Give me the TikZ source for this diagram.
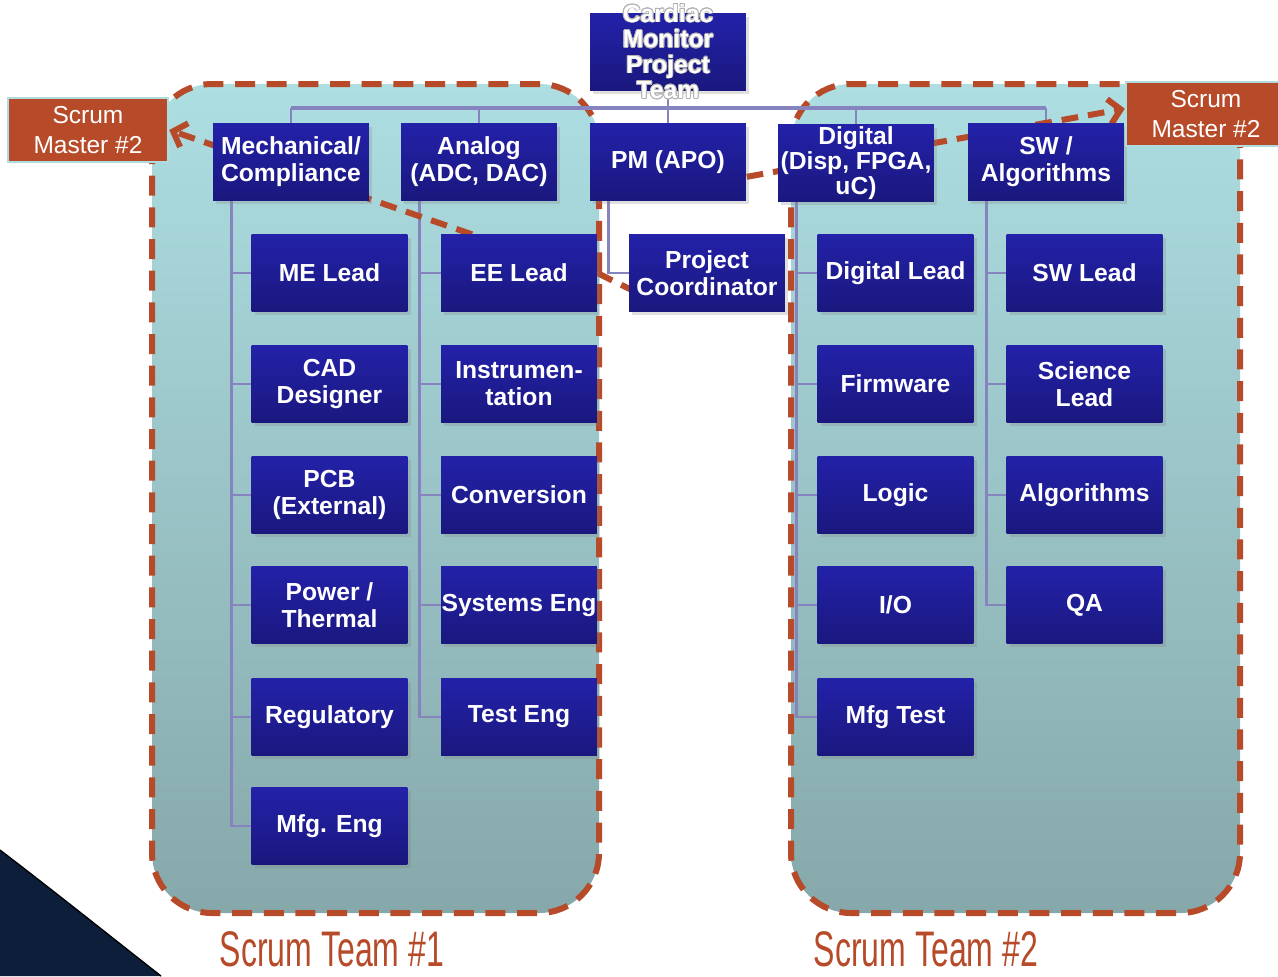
\documentclass[tikz,border=0pt]{standalone}
\usepackage{fontspec}
\setmainfont{Liberation Sans}
\usepackage[copies]{contour}
\contourlength{0.5pt}
\newcommand{\boxglow}[1]{\contour{black!30}{#1}}
\usetikzlibrary{positioning,calc,shadows,arrows.meta,backgrounds}
\definecolor{roletop}{RGB}{35,33,168}
\definecolor{rolebot}{RGB}{26,24,126}
\definecolor{rust}{RGB}{183,74,40}
\definecolor{teamtop}{RGB}{173,222,226}
\definecolor{teambot}{RGB}{134,168,170}
\definecolor{orgblue}{RGB}{134,132,190}
\definecolor{slidenavy}{RGB}{12,30,58}
\definecolor{rimcyan}{RGB}{176,220,224}
\tikzset{role/.style={top color=roletop,bottom color=rolebot,text=white,align=center,
            font=\bfseries\fontsize{14.8}{16.2}\selectfont,minimum width=93.5pt,minimum height=46pt,
            inner xsep=0pt,inner ysep=1pt,drop shadow={shadow xshift=2pt,shadow yshift=-2pt,opacity=0.25}},
         scrum/.style={draw=rimcyan,line width=1.5pt,fill=rust,text=white,align=center,
            font=\fontsize{14.7}{18}\selectfont,minimum width=96pt,minimum height=38.5pt,inner sep=0pt},
         team/.style={draw=rust,line width=3.6pt,dash pattern=on 12pt off 7pt,rounded corners=36pt,
            top color=teamtop,bottom color=teambot},
         orgline/.style={draw=orgblue,line width=1.6pt},
         scrumlink/.style={draw=rust,line width=3.6pt,dash pattern=on 10pt off 6pt},
         teamname/.style={text=rust,font=\fontsize{30}{30}\selectfont,xscale=0.64}
}

\begin{document}
\begin{tikzpicture}[x=0.6pt,y=0.6pt,yscale=-1]
\useasboundingbox (0,0) rectangle (1278,976);

% slide corner
\fill[slidenavy] (0,850) .. controls (55,892) and (110,936) .. (161,976) -- (0,976) -- cycle;
\draw[black,line width=0.8pt] (0,850) .. controls (55,892) and (110,936) .. (161,976);

% top of the tree
\node[role,label={[text=white,align=center,font=\bfseries\fontsize{14.8}{15.3}\selectfont]center:{\boxglow{Cardiac}\\\boxglow{Monitor}\\\boxglow{Project}\\\boxglow{Team}}}] (top) at (668,52) {};
\node[role] (mech) at (291,162) {Mechanical/\\Compliance};
\node[role] (analog) at (479,162) {Analog\\(ADC, DAC)};
\node[role] (pm) at (668,162) {PM (APO)};
\node[role,font=\bfseries\fontsize{14.8}{14.8}\selectfont] (digital) at (856,163) {Digital\\(Disp, FPGA,\\uC)};
\node[role] (sw) at (1046,162) {SW /\\Algorithms};

% mechanical
\node[role] (melead) at (329.5,273) {ME Lead};
\node[role] (cad) at (329.5,384) {CAD\\Designer};
\node[role] (pcb) at (329.5,495) {PCB\\(External)};
\node[role] (power) at (329.5,605) {Power /\\Thermal};
\node[role] (reg) at (329.5,717) {Regulatory};
\node[role] (mfgeng) at (329.5,826) {Mfg. Eng};
% analog
\node[role] (eelead) at (519,273) {EE Lead};
\node[role] (instr) at (519,384) {Instrumen-\\tation};
\node[role] (conv) at (519,495) {Conversion};
\node[role] (syseng) at (519,605) {Systems Eng};
\node[role] (testeng) at (519,717) {Test Eng};
% pm
\node[role] (pc) at (707,273) {Project\\Coordinator};
% digital
\node[role] (diglead) at (895.5,273) {Digital Lead};
\node[role] (firmware) at (895.5,384) {Firmware};
\node[role] (logic) at (895.5,495) {Logic};
\node[role] (io) at (895.5,605) {I/O};
\node[role] (mfgtest) at (895.5,717) {Mfg Test};
% software
\node[role] (swlead) at (1084.5,273) {SW Lead};
\node[role] (science) at (1084.5,384) {Science\\Lead};
\node[role] (algo) at (1084.5,495) {Algorithms};
\node[role] (qa) at (1084.5,605) {QA};

% scrum masters
\node[scrum] (smleft) at (88,130) {Scrum\\Master \#2};
\node[scrum] (smright) at (1206,114) {Scrum\\Master \#2};

\node[teamname] (team1name) at (332,949) {Scrum Team \#1};
\node[teamname] (team2name) at (926,949) {Scrum Team \#2};

\begin{scope}[on background layer]
\draw[team] (152,84) rectangle (599,913);
\draw[team] (791,84) rectangle (1240,913);

\coordinate (bus) at (668,108);
\draw[orgline] (top.south) -- (bus);
\draw[orgline,line width=2pt] (bus -| mech.north) -- (bus -| sw.north);
\foreach \n in {mech,analog,pm,digital,sw}
  \draw[orgline] (bus -| \n.north) -- (\n.north);
\foreach \boss/\kids in {mech/{melead,cad,pcb,power,reg,mfgeng},analog/{eelead,instr,conv,syseng,testeng},
                         pm/{pc},digital/{diglead,firmware,logic,io,mfgtest},sw/{swlead,science,algo,qa}}
  \foreach \k in \kids
    \draw[orgline] ($(\boss.south west)+(19,0)$) |- (\k.west);

\draw[scrumlink,-{Straight Barb[length=7pt,width=15pt]}] ($(eelead.north west)!0.2!(eelead.north east)$) -- (smleft.east);
\draw[scrumlink] (eelead.east) -- ($(pc.south west)!0.2!(pc.east)$);
\draw[scrumlink,-{Straight Barb[length=7pt,width=15pt]}] ($(pm.south)!0.25!(pm.center)$) -- ($(smright.south west)!0.58!(smright.north west)$);
\end{scope}
\end{tikzpicture}
\end{document}
